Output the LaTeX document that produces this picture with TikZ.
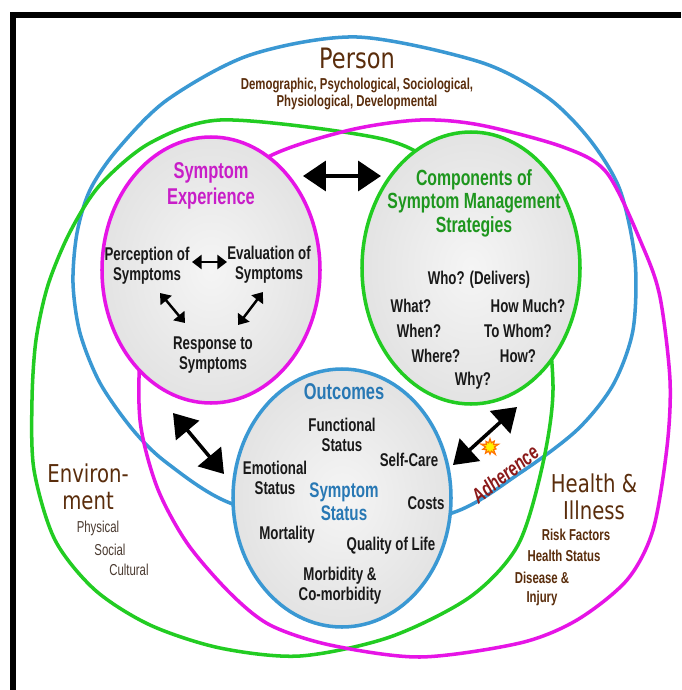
\documentclass[tikz,border=0pt]{standalone}
\usepackage{fontspec}
\setmainfont{Liberation Sans}
\newfontfamily\narrowsf[FakeStretch=0.72]{Liberation Sans}
\newfontfamily\headsf[FakeStretch=0.8]{DejaVu Sans}
\usetikzlibrary{arrows.meta,shapes.symbols}
\definecolor{ringblue}{HTML}{3A98D3}
\definecolor{ringgreen}{HTML}{22CC22}
\definecolor{ringmag}{HTML}{E614E6}
\definecolor{discin}{HTML}{F5F5F5}
\definecolor{discout}{HTML}{E3E3E3}
\definecolor{symcol}{HTML}{C81EC8}
\definecolor{compcol}{HTML}{1E961E}
\definecolor{outcol}{HTML}{2878B4}
\definecolor{brownish}{HTML}{5A2D0C}
\definecolor{envgray}{HTML}{4A3A30}
\definecolor{adhred}{HTML}{8B1A1A}

\begin{document}
\begin{tikzpicture}[x=0.02cm,y=-0.02cm,
  ring/.style={line width=2pt},
  disc/.style={line width=2pt, inner color=discin, outer color=discout},
  txt/.style={font=\narrowsf\bfseries\fontsize{10.5}{11.4}\selectfont, align=center, inner sep=0pt, text=black!90},
  ttl/.style={font=\narrowsf\bfseries\fontsize{12.5}{13.4}\selectfont, align=center, inner sep=0pt},
  headtxt/.style={font=\headsf\fontsize{14}{15.5}\selectfont, align=center, inner sep=0pt, text=brownish},
  subtxt/.style={font=\narrowsf\bfseries\fontsize{9}{9.8}\selectfont, align=center, inner sep=0pt, text=brownish},
  envtxt/.style={font=\narrowsf\fontsize{9}{9.8}\selectfont, inner sep=0pt, text=envgray},
  dblarrow/.style={{Triangle[length=13pt,width=17pt]}-{Triangle[length=13pt,width=17pt]}, line width=2pt},
  minarrow/.style={{Triangle[length=5.5pt,width=8pt]}-{Triangle[length=5.5pt,width=8pt]}, line width=1.4pt},
]
\useasboundingbox[fill=white] (0,0) rectangle (681,690);

% frame
\draw[line width=3pt] (13,690) -- (13,15) -- (681,15);

% outer rings: person, environment, health
\draw[ring, ringblue] plot[smooth cycle] coordinates {
  (357,37) (480,62) (547,97) (590,140) (620,190) (635,260) (633,330)
  (613,385) (577,430) (520,473) (452,513) (340,530) (230,503) (167,463)
  (133,430) (100,383) (80,333) (73,283) (77,233) (90,190) (117,150)
  (167,100) (250,55)};
\draw[ring, ringgreen] plot[smooth cycle] coordinates {
  (220,120) (350,133) (417,152) (495,215) (540,290) (553,385) (543,463)
  (518,545) (470,597) (390,637) (300,656) (220,648) (150,625) (95,590)
  (55,540) (34,470) (32,400) (36,340) (48,285) (70,232) (100,185) (150,143)};
\draw[ring, ringmag] plot[smooth cycle] coordinates {
  (420,120) (480,125) (563,147) (607,173) (643,247) (660,297) (670,380)
  (667,447) (653,530) (627,580) (577,620) (520,643) (420,657) (330,645)
  (270,625) (230,593) (187,543) (157,487) (140,420) (142,340) (165,260)
  (205,200) (272,155) (350,130)};

% inner discs
\draw[disc, draw=ringmag] (211,270) ellipse [x radius=109, y radius=133];
\draw[disc, draw=ringgreen] (471,268) ellipse [x radius=109, y radius=136];
\draw[disc, draw=ringblue] (342,498) ellipse [x radius=109, y radius=129];

% symptom experience
\node[ttl, text=symcol, font=\narrowsf\bfseries\fontsize{13}{14.5}\selectfont] (symexp) at (211,186) {Symptom\\Experience};
\node[txt] (perc) at (147,266) {Perception of\\Symptoms};
\node[txt] (eval) at (269,265) {Evaluation of\\Symptoms};
\node[txt] (resp) at (213,355) {Response to\\Symptoms};
\coordinate (pe1) at (192,262);
\coordinate (pe2) at (227,262);
\coordinate (pr1) at (160,293);
\coordinate (pr2) at (185,323);
\coordinate (er1) at (263,292);
\coordinate (er2) at (238,325);
\draw[minarrow] (pe1) -- (pe2);
\draw[minarrow] (pr1) -- (pr2);
\draw[minarrow] (er1) -- (er2);

% components
\node[ttl, text=compcol] (comp) at (474,203) {Components of\\Symptom Management\\Strategies};
\node[txt] (who) at (479,280) {Who? (Delivers)};
\node[txt] (what) at (411,306) {What?};
\node[txt] (howmuch) at (528,306) {How Much?};
\node[txt] (when) at (419,331) {When?};
\node[txt] (towhom) at (518,331) {To Whom?};
\node[txt] (where) at (436,356) {Where?};
\node[txt] (how) at (518,356) {How?};
\node[txt] (why) at (473,381) {Why?};

% outcomes
\node[ttl, text=outcol, font=\narrowsf\bfseries\fontsize{13}{14}\selectfont] (outc) at (344,392) {Outcomes};
\node[txt] (func) at (342,435) {Functional\\Status};
\node[txt] (selfc) at (409,460) {Self-Care};
\node[txt] (emo) at (275,478) {Emotional\\Status};
\node[ttl, text=outcol, font=\narrowsf\bfseries\fontsize{12}{13}\selectfont] (symst) at (344,502) {Symptom\\Status};
\node[txt] (costs) at (426,503) {Costs};
\node[txt] (mort) at (287,535) {Mortality};
\node[txt] (qol) at (391,546) {Quality of Life};
\node[txt] (morb) at (340,586) {Morbidity \&\\Co-morbidity};

% big arrows
\coordinate (sc1) at (303,176);
\coordinate (sc2) at (381,176);
\coordinate (so1) at (173,413);
\coordinate (so2) at (224,474);
\coordinate (ad1) at (453,465);
\coordinate (ad2) at (517,407);
\draw[dblarrow] (sc1) -- (sc2);
\draw[dblarrow] (so1) -- (so2);
\draw[dblarrow] (ad1) -- (ad2);
\node[starburst, fill=yellow, draw=orange!90!red, line width=0.7pt, starburst points=10,
  starburst point height=3pt, minimum size=11pt, inner sep=0pt] (sun) at (490,447) {};
\node[font=\narrowsf\bfseries\itshape\fontsize{12}{12}\selectfont, text=adhred, rotate=38, inner sep=0pt] (adh) at (505,474) {Adherence};

% outer labels
\node[headtxt, font=\headsf\fontsize{16}{17}\selectfont] (person) at (357,58) {Person};
\node[subtxt] (persub) at (357,94) {Demographic, Psychological, Sociological,\\Physiological, Developmental};
\node[headtxt] (envir) at (88,487) {Environ-\\ment};
\node[envtxt] (phys) at (98,528) {Physical};
\node[envtxt] (soc) at (110,550) {Social};
\node[envtxt] (cult) at (129,570) {Cultural};
\node[headtxt] (health) at (594,497) {Health \&\\Illness};
\node[subtxt] (risk) at (576,535) {Risk Factors};
\node[subtxt] (hstat) at (564,556) {Health Status};
\node[subtxt, font=\narrowsf\bfseries\fontsize{9}{11.2}\selectfont] (dis) at (542,589) {Disease \&\\Injury};
\end{tikzpicture}
\end{document}
